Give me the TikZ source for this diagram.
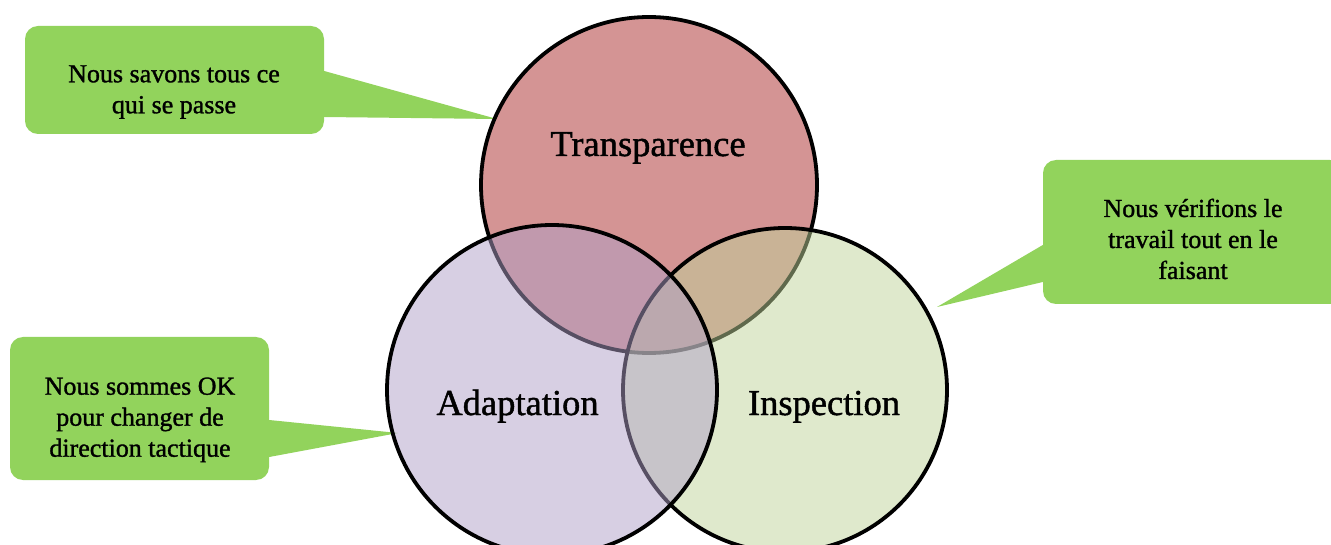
\documentclass[tikz,border=0pt]{standalone}
\usepackage{fontspec}
\setmainfont{Liberation Serif}
\newfontfamily\heavyserif[FakeBold=1.2]{Liberation Serif}
\definecolor{callgreen}{HTML}{92D35C}
\definecolor{tcol}{HTML}{D49494}
\definecolor{acol}{HTML}{AF9FC7}
\definecolor{icol}{HTML}{BFD399}
\begin{document}
\begin{tikzpicture}[x=1pt,y=-1pt,
  venn/.style={circle,draw=black,line width=3.8pt,inner sep=0pt},
  vlabel/.style={font=\heavyserif\fontsize{36.5}{40}\selectfont,inner sep=0pt,anchor=base},
  callbox/.style={fill=callgreen,rounded corners=13pt,inner sep=0pt},
  calltext/.style={align=center,inner sep=0pt,anchor=base,
     font=\heavyserif\fontsize{26}{31}\selectfont}]
\useasboundingbox (0,0) rectangle (1331,545);
% callout boxes
\node[callbox,minimum width=299pt,minimum height=108pt] (c1) at (174.5,80) {};
\node[callbox,minimum width=259pt,minimum height=143pt] (c2) at (139.5,408.5) {};
\node[callbox,minimum width=300pt,minimum height=144pt] (c3) at (1193,232) {};
\coordinate (p1) at (497,119);
\coordinate (p2) at (398,433);
\coordinate (p3) at (937,307);
\fill[callgreen] ([yshift=9pt]c1.east) -- (p1) -- ([yshift=-37pt]c1.east) -- cycle;
\fill[callgreen] ([yshift=-11.5pt]c2.east) -- (p2) -- ([yshift=-48.5pt]c2.east) -- cycle;
\fill[callgreen] ([yshift=-13pt]c3.west) -- (p3) -- ([yshift=-50pt]c3.west) -- cycle;
\node[calltext] (t1) at (174,113.3) {Nous savons tous ce\\qui se passe};
\node[calltext] (t2) at (140,456.7) {Nous sommes OK\\pour changer de\\direction tactique};
\node[calltext] (t3) at (1193,279) {Nous vérifions le\\travail tout en le\\faisant};
% circles
\node[venn,fill=tcol,minimum size=336pt] (T) at (649,185) {};
\node[venn,fill=icol,fill opacity=0.5,minimum size=324pt] (I) at (785,390) {};
\node[venn,fill=acol,fill opacity=0.5,minimum size=330pt] (A) at (552,390) {};
% labels
\node[vlabel] (tl) at (648,156) {Transparence};
\node[vlabel] (al) at (517.5,415) {Adaptation};
\node[vlabel] (il) at (824,415) {Inspection};
\end{tikzpicture}
\end{document}
